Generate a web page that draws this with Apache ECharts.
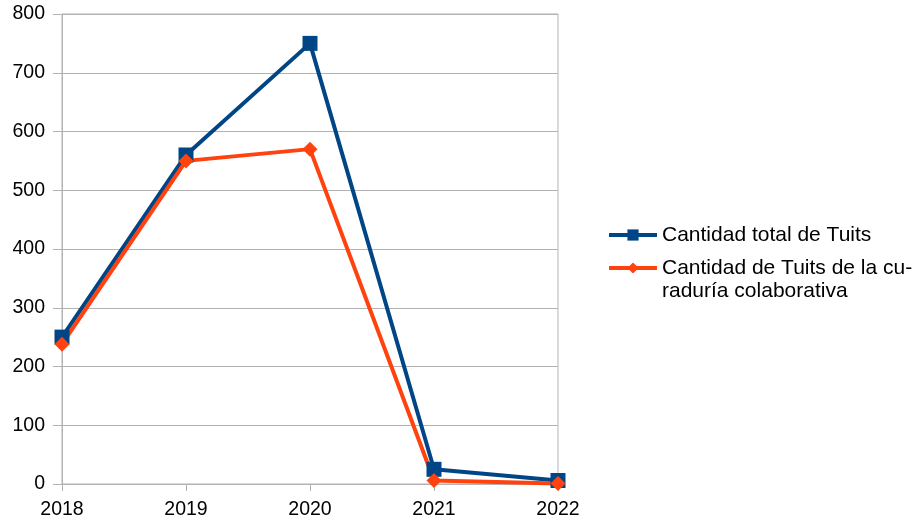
<!DOCTYPE html>
<html>
<head>
<meta charset="utf-8">
<script src="https://cdn.jsdelivr.net/npm/echarts@6/dist/echarts.min.js"></script>
<style>
  html, body { margin: 0; padding: 0; background: #fff; }
  #chart { width: 918px; height: 521px; }
</style>
</head>
<body>
<div id="chart"></div>
<script>
const years = ['2018', '2019', '2020', '2021', '2022'];
const totalTuits = [250, 560, 750, 25, 6];
const curaduriaTuits = [238, 550, 570, 6, 1];
const yTicks = { min: 0, max: 800, interval: 100 };

const chart = echarts.init(document.getElementById('chart'));

// the 2nd legend entry wraps onto a second line, icon stays on the first one
const legendLine1 = 'Cantidad de Tuits de la cu-';
const legendLine2 = 'raduría colaborativa';

chart.setOption({
    animation: false,
    textStyle: { fontFamily: 'Liberation Sans' },
    grid: {
        left: 62,
        right: 360,
        top: 14,
        bottom: 37,
        show: true,
        borderColor: '#b3b3b3',
        borderWidth: 1
    },
    legend: {
        orient: 'vertical',
        left: 602,
        top: 219,
        itemWidth: 48,
        itemHeight: 14,
        itemGap: 11,
        lineStyle: { width: 4 },
        textStyle: { fontSize: 21, color: '#000', lineHeight: 22 },
        formatter: function (name) {
            return name.indexOf('curaduría') > -1 ? legendLine1 : name;
        }
    },
    graphic: [{
        type: 'text',
        left: 662,
        top: 281,
        style: { text: legendLine2, fontSize: 21, fill: '#000', fontFamily: 'Liberation Sans' }
    }],
    xAxis: {
        type: 'category',
        data: years,
        boundaryGap: false,
        axisLine: { lineStyle: { color: '#b3b3b3' } },
        axisTick: { show: true, length: 7, lineStyle: { color: '#b3b3b3' } },
        axisLabel: { color: '#000', fontSize: 19.5, margin: 16 },
        splitLine: { show: false }
    },
    yAxis: {
        type: 'value',
        min: yTicks.min,
        max: yTicks.max,
        interval: yTicks.interval,
        axisLine: { show: true, lineStyle: { color: '#b3b3b3' } },
        axisTick: { show: true, length: 9, lineStyle: { color: '#b3b3b3' } },
        axisLabel: { color: '#000', fontSize: 19.5, margin: 17 },
        splitLine: { lineStyle: { color: '#b3b3b3' } }
    },
    series: [
        {
            name: 'Cantidad total de Tuits',
            type: 'line',
            data: totalTuits,
            symbol: 'rect',
            symbolSize: 15,
            color: '#004586',
            lineStyle: { width: 4 },
            itemStyle: { color: '#004586' }
        },
        {
            name: 'Cantidad de Tuits de la curaduría colaborativa',
            type: 'line',
            data: curaduriaTuits,
            symbol: 'diamond',
            symbolSize: 15,
            color: '#ff420e',
            lineStyle: { width: 4 },
            itemStyle: { color: '#ff420e' }
        }
    ]
});
</script>
</body>
</html>
